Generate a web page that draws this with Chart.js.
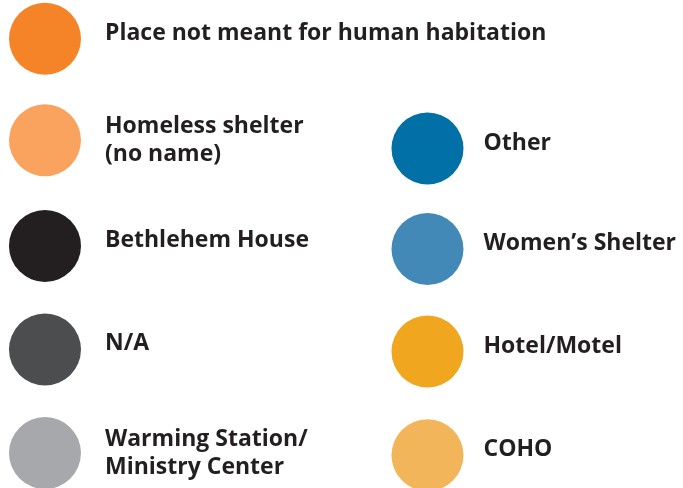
<!DOCTYPE html>
<html>
<head>
<meta charset="utf-8">
<script src="https://cdn.jsdelivr.net/npm/chart.js@4.4.1/dist/chart.umd.min.js"></script>
<style>
  html, body { margin: 0; padding: 0; background: #ffffff; }
  #wrap { width: 683px; height: 488px; }
</style>
</head>
<body>
<div id="wrap"><canvas id="c" width="683" height="488"></canvas></div>
<script>
// Legend entries (categories)
const categories = [
  ["Place not meant for human habitation"],
  ["Homeless shelter", "(no name)"],
  ["Bethlehem House"],
  ["N/A"],
  ["Warming Station/", "Ministry Center"],
  ["Other"],
  ["Women\u2019s Shelter"],
  ["Hotel/Motel"],
  ["COHO"]
];
const colors = ["#f58428", "#f9a35f", "#231f20", "#4c4d4f", "#a7a8ab",
                "#0070a6", "#4389b8", "#f1a620", "#f3b559"];
// grid column and row of each legend entry
const columns = [0, 0, 0, 0, 0, 1, 1, 1, 1];
const rows    = [0, 0.98, 2.0, 3.0, 4.0, 1.06, 2.03, 3.02, 4.02];

const points = categories.map((c, i) => ({ x: columns[i], y: rows[i] }));

const labelPlugin = {
  id: 'legendLabels',
  afterDatasetsDraw(chart) {
    const ctx = chart.ctx;
    const meta = chart.getDatasetMeta(0);
    ctx.save();
    ctx.fillStyle = '#231f20';
    ctx.font = 'bold 23px "Open Sans"';
    ctx.textAlign = 'left';
    ctx.textBaseline = 'alphabetic';
    meta.data.forEach((pt, i) => {
      const lines = categories[i];
      const x = pt.x + (columns[i] === 0 ? 60 : 56);
      if (lines.length === 1) {
        ctx.fillText(lines[0], x, pt.y + 1);
      } else {
        ctx.fillText(lines[0], x, pt.y - 7);
        ctx.fillText(lines[1], x, pt.y + 21);
      }
    });
    ctx.restore();
  }
};

new Chart(document.getElementById('c'), {
  type: 'scatter',
  data: {
    datasets: [{
      data: points,
      clip: false,
      pointBackgroundColor: colors,
      pointBorderWidth: 0,
      pointBorderColor: colors,
      pointRadius: 36,
      pointHoverRadius: 36
    }]
  },
  options: {
    responsive: false,
    animation: false,
    layout: { padding: 0, autoPadding: false },
    plugins: { legend: { display: false }, tooltip: { enabled: false } },
    scales: {
      x: { type: 'linear', display: false, min: -0.1176, max: 1.668 },
      y: { type: 'linear', display: false, reverse: true, min: -0.3736, max: 4.337 }
    }
  },
  plugins: [labelPlugin]
});
</script>
</body>
</html>
